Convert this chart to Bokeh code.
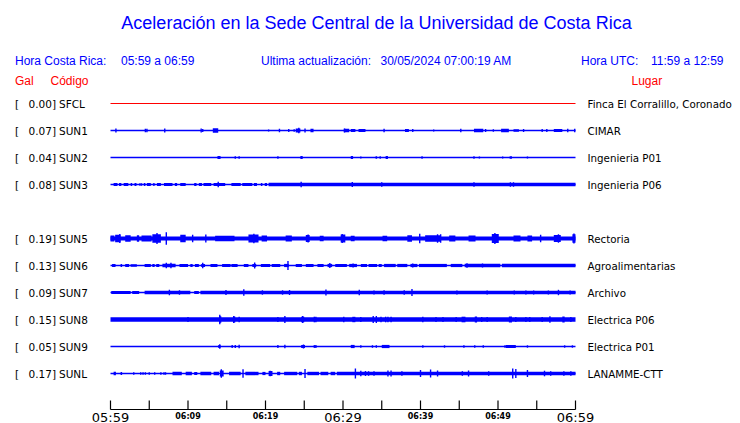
from bokeh.plotting import figure
from bokeh.models import Range1d
from bokeh.core.properties import value
from bokeh.embed import file_html
from bokeh.resources import INLINE

# ---------------- data ----------------
title_text = "Aceleración en la Sede Central de la Universidad de Costa Rica"
hora_cr = "05:59 a 06:59"
ultima = "30/05/2024 07:00:19 AM"
hora_utc = "11:59 a 12:59"

stations = ["SFCL", "SUN1", "SUN2", "SUN3", "SUN5", "SUN6", "SUN7", "SUN8", "SUN9", "SUNL"]
slots = [0, 1, 2, 3, 5, 6, 7, 8, 9, 10]          # SUN4 has no trace
gal = [0.00, 0.07, 0.04, 0.08, 0.19, 0.13, 0.09, 0.15, 0.05, 0.17]
places = ["Finca El Corralillo, Coronado", "CIMAR", "Ingenieria P01", "Ingenieria P06",
          "Rectoria", "Agroalimentarias", "Archivo", "Electrica P06", "Electrica P01",
          "LANAMME-CTT"]

# relative trace amplitude (background level), per station
base_amp = [0.5, 0.75, 0.7, 0.8, 2.1, 0.7, 0.7, 2.2, 0.65, 0.7]

# bursts: (start minute, end minute, amplitude)
sfcl_bursts = []
sun1_bursts = [(13.2, 13.9, 2.3), (23.9, 24.5, 2.0), (25.8, 26.2, 1.8), (30.1, 30.8, 1.8),
               (31.0, 31.6, 1.6), (32.0, 32.9, 1.5), (38.0, 38.5, 1.5), (46.9, 48.1, 1.8),
               (50.4, 51.4, 1.8), (52.0, 52.7, 1.3), (57.2, 58.3, 1.6)]
sun2_bursts = [(13.8, 14.2, 1.4), (24.5, 24.8, 1.4), (31.0, 31.3, 1.4), (34.2, 34.4, 1.3),
               (35.5, 35.8, 1.4), (51.5, 51.8, 1.3)]
sun3_bursts = [(0.4, 0.9, 1.6), (1.1, 1.4, 1.6), (1.7, 2.3, 1.6), (2.6, 2.8, 1.6), (3.1, 3.35, 1.6),
               (4.3, 4.5, 1.6), (4.7, 5.2, 1.6), (6.0, 6.5, 1.6), (6.9, 8.0, 1.6), (8.3, 8.6, 1.6),
               (9.0, 9.7, 1.6), (10.8, 11.1, 1.5), (11.4, 11.8, 1.5), (12.0, 13.0, 1.6),
               (13.3, 14.8, 1.6), (15.6, 16.8, 1.6), (17.0, 18.3, 1.6), (18.5, 18.9, 1.6),
               (19.4, 19.6, 1.5), (19.9, 20.2, 1.5), (20.4, 60.0, 1.7)]
sun5_bursts = [(0.0, 0.5, 3.0), (0.6, 1.3, 3.8), (1.9, 2.6, 3.3), (3.4, 3.7, 3.3), (4.0, 5.3, 3.0),
               (5.4, 6.5, 4.3), (9.0, 9.7, 3.8), (13.5, 16.0, 2.8), (17.8, 19.1, 4.0),
               (19.5, 20.2, 3.0), (22.6, 23.4, 3.0), (25.2, 25.7, 3.6), (27.0, 27.5, 2.8),
               (29.7, 30.3, 4.0), (31.0, 31.5, 2.8), (35.1, 35.7, 2.8), (38.3, 38.9, 3.3),
               (40.6, 42.6, 3.3), (43.7, 44.5, 3.1), (46.2, 47.1, 3.1), (49.2, 50.1, 4.6),
               (52.0, 52.9, 3.1), (53.8, 54.4, 3.1), (57.2, 58.1, 3.6), (59.6, 60.0, 4.3)]
sun6_bursts = [(0.2, 0.65, 1.5), (1.3, 1.5, 1.5), (1.9, 2.4, 1.5), (2.6, 3.4, 1.2), (4.4, 5.2, 1.5),
               (5.4, 5.7, 1.5), (5.9, 6.3, 1.5), (6.7, 8.4, 1.8), (8.9, 10.0, 1.5), (10.3, 10.6, 1.4),
               (10.9, 11.4, 1.4), (11.7, 12.2, 1.6), (12.9, 13.8, 1.5), (14.4, 15.5, 1.5),
               (15.6, 16.4, 1.5), (17.2, 17.8, 1.5), (18.3, 18.8, 1.6), (19.4, 20.6, 1.5),
               (20.8, 21.9, 1.5), (22.4, 23.0, 1.6), (23.9, 24.7, 1.5), (25.2, 26.2, 1.5),
               (26.7, 27.5, 1.5), (28.0, 28.6, 1.6), (29.0, 30.5, 1.5), (30.8, 31.8, 1.6),
               (32.3, 33.1, 1.5), (33.3, 34.4, 1.5), (34.6, 35.0, 1.5), (35.3, 36.8, 1.6),
               (37.0, 38.3, 1.6), (38.7, 39.6, 1.6), (39.8, 43.4, 1.6), (43.9, 45.4, 1.6),
               (45.7, 50.3, 1.7), (50.5, 60.0, 1.7)]
sun7_bursts = [(0.1, 2.6, 1.6), (2.8, 3.7, 1.6), (4.4, 10.3, 1.7), (10.8, 11.4, 1.6),
               (11.6, 60.0, 1.7)]
sun8_bursts = [(14.0, 14.3, 3.2), (15.8, 16.1, 3.0), (24.6, 25.0, 2.8), (31.2, 31.6, 2.7),
               (45.3, 45.8, 2.8), (47.0, 47.3, 3.0), (51.4, 51.8, 3.0), (58.3, 58.6, 3.0)]
sun9_bursts = [(13.9, 14.2, 1.5), (24.6, 25.1, 1.5), (31.0, 31.5, 1.6), (35.0, 36.0, 1.6),
               (51.0, 52.3, 1.5)]
sunl_bursts = [(0.4, 0.7, 1.7), (1.3, 1.5, 1.6), (8.0, 9.2, 1.7), (9.7, 10.5, 1.7), (10.8, 11.2, 1.6),
               (11.6, 13.0, 1.7), (13.3, 14.0, 1.7), (14.1, 14.6, 3.0), (15.3, 16.8, 1.7),
               (17.4, 19.1, 1.7), (19.6, 20.0, 1.6), (20.4, 20.9, 2.5), (21.5, 21.9, 1.7),
               (22.4, 24.1, 1.7), (24.3, 24.7, 1.7), (25.4, 26.9, 1.7), (27.1, 28.1, 1.7),
               (28.4, 29.0, 1.7), (29.2, 60.0, 1.8)]

# spikes: (minute, amplitude)
sfcl_spikes = []
sun1_spikes = [(0.7, 2.0), (4.5, 1.8), (4.7, 1.8), (7.0, 2.0), (11.7, 2.0), (11.9, 1.5), (20.4, 1.0),
               (21.8, 1.8), (23.0, 1.5), (23.7, 1.3), (24.3, 2.8), (25.1, 2.0), (30.2, 2.0),
               (35.3, 1.8), (39.0, 1.5), (41.7, 1.0), (45.2, 1.8), (48.4, 1.5), (49.4, 1.3),
               (53.3, 1.5), (55.7, 1.5), (56.3, 1.5), (59.0, 1.8), (59.9, 1.8)]
sun2_spikes = [(16.1, 1.3), (16.6, 1.3), (21.6, 1.2), (32.3, 1.0), (34.8, 1.2), (40.2, 1.2),
               (46.9, 1.2), (47.6, 1.0), (50.6, 1.0), (53.8, 1.0)]
sun3_spikes = [(3.8, 1.3), (4.0, 1.3), (5.6, 1.5), (13.9, 2.8), (24.6, 2.7), (31.2, 2.5),
               (35.0, 2.2), (46.9, 2.3), (51.6, 2.2), (52.0, 2.2)]
sun5_spikes = [(1.2, 4.5), (6.0, 5.5), (7.2, 6.3), (10.6, 3.8), (12.3, 4.0), (18.5, 4.8), (25.5, 4.0),
               (29.9, 4.5), (39.9, 4.8), (42.2, 4.2), (42.6, 4.2), (49.6, 5.5), (55.5, 3.8),
               (57.8, 4.2), (59.8, 5.0)]
sun6_spikes = [(7.2, 2.8), (7.8, 2.8), (11.9, 2.8), (18.6, 3.0), (22.9, 4.5), (28.3, 2.5),
               (31.3, 2.0), (39.0, 2.0), (46.0, 2.2), (48.0, 2.0)]
sun7_spikes = [(7.6, 2.8), (8.9, 2.3), (14.9, 2.5), (17.2, 3.2), (19.6, 2.2), (22.2, 2.2), (23.1, 2.5),
               (27.8, 3.0), (32.1, 2.7), (34.0, 2.0), (35.3, 2.2), (37.9, 2.3), (38.9, 3.5),
               (44.7, 2.0), (48.6, 2.0), (52.1, 2.0), (53.6, 2.0), (54.6, 2.0), (56.5, 2.0),
               (57.8, 2.7), (59.3, 2.0)]
sun8_spikes = [(10.0, 2.5), (14.1, 4.7), (15.9, 3.5), (16.6, 2.8), (21.6, 2.5), (22.5, 3.5),
               (24.8, 3.5), (26.3, 2.8), (26.5, 2.8), (30.1, 2.8), (32.3, 2.6), (33.9, 3.5),
               (34.3, 3.5), (34.9, 2.8), (35.5, 2.8), (35.8, 2.8), (36.2, 2.8), (40.3, 2.8),
               (42.0, 2.6), (42.9, 2.6), (44.6, 2.6), (47.9, 2.6), (48.6, 2.6), (52.3, 2.6),
               (53.6, 2.6), (54.1, 2.6), (55.7, 2.6), (56.7, 3.2), (59.4, 2.6)]
sun9_spikes = [(14.1, 2.3), (15.7, 1.5), (16.1, 1.5), (16.6, 1.8), (21.6, 1.5), (22.5, 1.8),
               (24.9, 2.0), (26.3, 1.4), (26.5, 1.4), (32.3, 1.3), (33.8, 1.3), (34.3, 1.3),
               (40.3, 1.3), (43.1, 1.2), (45.6, 1.2), (47.0, 1.3), (48.1, 1.2), (50.9, 1.3),
               (53.8, 1.2), (58.6, 1.2), (59.6, 1.2)]
sunl_spikes = [(3.0, 1.3), (3.9, 1.3), (4.2, 1.3), (4.5, 1.3), (5.0, 1.3), (5.7, 1.3), (6.5, 1.3),
               (6.9, 1.3), (7.1, 1.3), (14.3, 4.3), (17.1, 4.2), (20.6, 2.8), (25.1, 4.5),
               (31.6, 5.0), (32.3, 2.8), (32.9, 2.5), (33.3, 2.3), (34.0, 2.3), (35.8, 3.0),
               (36.2, 3.0), (37.6, 2.3), (40.0, 3.5), (41.3, 4.0), (42.2, 3.0), (45.4, 2.3),
               (46.2, 3.0), (48.8, 2.3), (51.9, 5.0), (52.3, 4.5), (53.8, 3.5), (56.0, 2.8),
               (56.8, 2.3), (58.5, 2.3), (59.4, 2.3)]

all_bursts = [sfcl_bursts, sun1_bursts, sun2_bursts, sun3_bursts, sun5_bursts, sun6_bursts,
              sun7_bursts, sun8_bursts, sun9_bursts, sunl_bursts]
all_spikes = [sfcl_spikes, sun1_spikes, sun2_spikes, sun3_spikes, sun5_spikes, sun6_spikes,
              sun7_spikes, sun8_spikes, sun9_spikes, sunl_spikes]

tick_minutes = list(range(0, 61, 5))
label_minutes = [0, 10, 20, 30, 40, 50, 60]
label_texts = ["05:59", "06:09", "06:19", "06:29", "06:39", "06:49", "06:59"]
label_big = [True, False, False, True, False, False, True]

# ---------------- layout ----------------
W, H = 740, 423
BLUE = "#0000ff"
RED = "#ff0000"
ROW0, ROWSTEP = 103, 27
X0PX, PXPERMIN = 110, 7.75
AXIS_Y = 409

p = figure(width=W, height=H, output_backend="svg", toolbar_location=None,
           x_range=Range1d(0, W), y_range=Range1d(H, 0),
           x_axis_location=None, y_axis_location=None, min_border=0)
p.grid.visible = False
p.outline_line_color = None
p.background_fill_color = "white"
p.extra_x_ranges = {"t": Range1d((0 - X0PX) / PXPERMIN, (W - X0PX) / PXPERMIN)}

sans = value("Liberation Sans")
dv = value("DejaVu Sans")

# title and headers
p.text(x=[376], y=[22], text=[title_text], text_font=sans, text_font_size="18px",
       text_color=BLUE, text_align="center", text_baseline="middle")
p.text(x=[14.5, 120.5, 260.5, 380, 580.5, 650.5], y=[60.5] * 6,
       text=["Hora Costa Rica:", hora_cr, "Ultima actualización:", ultima, "Hora UTC:", hora_utc],
       text_font=sans, text_font_size="12px", text_color=BLUE, text_baseline="middle")
p.text(x=[14.5, 50, 631], y=[80.5] * 3, text=["Gal", "Código", "Lugar"],
       text_font=sans, text_font_size="12px", text_color=RED, text_baseline="middle")

rows = [ROW0 + ROWSTEP * s for s in slots]

# left / right labels
p.text(x=[14.5] * len(rows), y=rows, text=["["] * len(rows), text_font=dv,
       text_font_size="10.5px", text_color="black", text_baseline="middle")
p.text(x=[55.5] * len(rows), y=rows, text=[f"{g:.2f}]" for g in gal], text_font=dv,
       text_font_size="10.5px", text_color="black", text_baseline="middle", text_align="right")
p.text(x=[58.5] * len(rows), y=rows, text=stations, text_font=dv,
       text_font_size="10.5px", text_color="black", text_baseline="middle")
p.text(x=[587] * len(rows), y=rows, text=places, text_font=dv,
       text_font_size="10.3px", text_color="black", text_baseline="middle")

# traces
bl, br, bt, bb = [], [], [], []
for i, (row, a) in enumerate(zip(rows, base_amp)):
    if i == 0:
        continue
    bl.append(0); br.append(60); bt.append(row - a); bb.append(row + a)
    for (t0, t1, amp) in all_bursts[i]:
        bl.append(t0); br.append(t1); bt.append(row - amp); bb.append(row + amp)
    for (t, amp) in all_spikes[i]:
        bl.append(t - 0.09); br.append(t + 0.09); bt.append(row - amp); bb.append(row + amp)
p.quad(left=bl, right=br, top=bt, bottom=bb, fill_color=BLUE, line_color=None,
       x_range_name="t")
p.line(x=[0, 60], y=[rows[0], rows[0]], line_color=RED, line_width=1, x_range_name="t")

# time axis
p.line(x=[0, 60], y=[AXIS_Y, AXIS_Y], line_color="black", line_width=1.2, x_range_name="t")
p.segment(x0=tick_minutes, x1=tick_minutes, y0=[AXIS_Y - 9] * len(tick_minutes),
          y1=[AXIS_Y] * len(tick_minutes), line_color="black", line_width=1.2, x_range_name="t")
bigx = [m for m, b in zip(label_minutes, label_big) if b]
bigt = [t for t, b in zip(label_texts, label_big) if b]
smx = [m for m, b in zip(label_minutes, label_big) if not b]
smt = [t for t, b in zip(label_texts, label_big) if not b]
p.text(x=bigx, y=[AXIS_Y + 7.5] * len(bigx), text=bigt, text_font=dv, text_font_size="13px",
       text_color="black", text_align="center", text_baseline="middle", x_range_name="t")
p.text(x=smx, y=[AXIS_Y + 6.5] * len(smx), text=smt, text_font=dv, text_font_size="8px",
       text_font_style="bold", text_color="black", text_align="center", text_baseline="middle",
       x_range_name="t")

open("out.html", "w").write(file_html(p, INLINE))
